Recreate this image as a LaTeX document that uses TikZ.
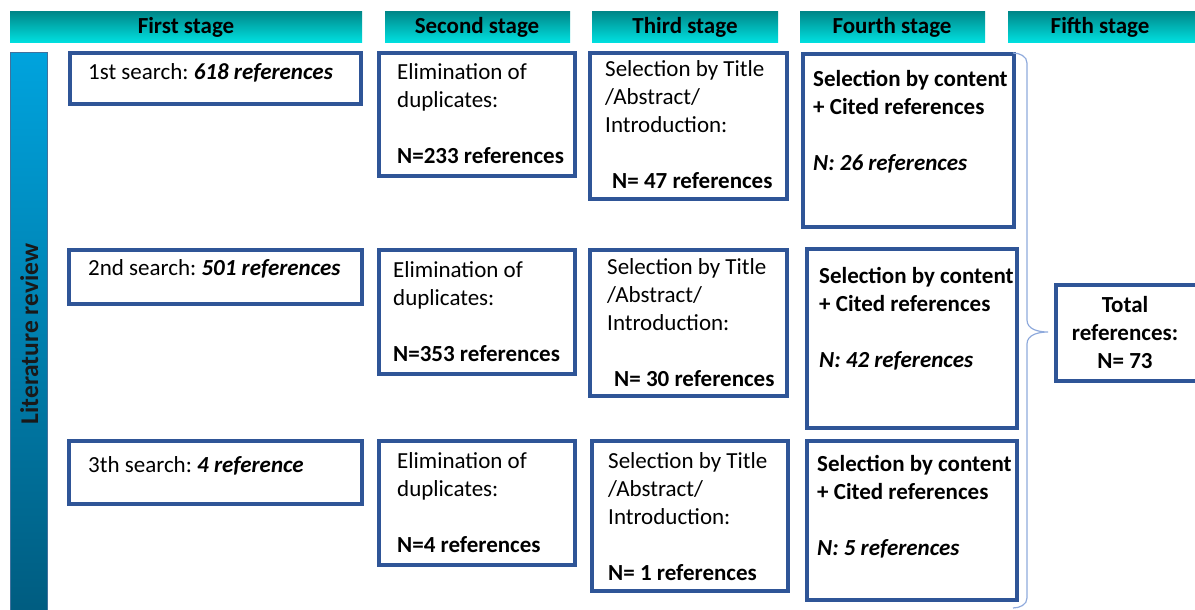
\documentclass[tikz,border=0pt]{standalone}
\usepackage{fontspec}
\setmainfont{Carlito}
\usetikzlibrary{fit}

\definecolor{boxblue}{RGB}{47,85,151}
\definecolor{hdrtop}{RGB}{0,136,138}
\definecolor{hdrbot}{RGB}{0,226,226}
\definecolor{bartop}{RGB}{0,163,221}
\definecolor{barbot}{RGB}{0,92,128}
\definecolor{barline}{RGB}{65,113,156}
\definecolor{bracecol}{RGB}{143,170,220}

% stacked lines with the first baseline as the node baseline
\newcommand\textlines[2][l]{\begin{tabular}[t]{@{}#1@{}}#2\end{tabular}}

\begin{document}
\begin{tikzpicture}[x=1pt, y=-1pt,
  stagebox/.style={draw=boxblue, line width=4pt, fill=white, inner sep=0pt, outer sep=0pt},
  header/.style={inner sep=0pt, top color=hdrtop, bottom color=hdrbot, draw=none},
  headtext/.style={anchor=base, inner sep=0pt, font=\fontsize{23}{28}\selectfont\bfseries},
  boxtext/.style={anchor=base west, inner sep=0pt, font=\fontsize{23}{28}\selectfont},
  bracestyle/.style={draw=bracecol, line width=1.2pt}
]
\useasboundingbox (0,0) rectangle (1195,610);

% stage headers
\node[header, fit={(10,12) (362,43)}] (h1) {};
\node[header, fit={(385,12) (570,43)}] (h2) {};
\node[header, fit={(592,12) (778,43)}] (h3) {};
\node[header, fit={(800,12) (985,43)}] (h4) {};
\node[header, fit={(1008,12) (1200,43)}] (h5) {};
\node[headtext] (h1t) at (186,34) {First stage};
\node[headtext] (h2t) at (477,34) {Second stage};
\node[headtext] (h3t) at (685,34) {Third stage};
\node[headtext] (h4t) at (892,34) {Fourth stage};
\node[headtext] (h5t) at (1100,34) {Fifth stage};

% vertical side bar
\node[fit={(10,53) (47,614)}, inner sep=0pt, top color=bartop, bottom color=barbot,
      draw=barline, line width=1pt] (bar) {};
\node[rotate=90, anchor=base, inner sep=0pt, font=\fontsize{25.5}{30}\selectfont\bfseries,
      text=black!90] (bartxt) at (38,334) {Literature review};

% first row
\node[stagebox, fit={(70,53) (361,104)}] (s1) {};
\node[stagebox, fit={(379,53) (575,176)}] (e1) {};
\node[stagebox, fit={(590,53) (787,199)}] (t1) {};
\node[stagebox, fit={(803,54) (1014,227)}] (f1) {};
\node[boxtext] (s1t) at (88,80) {1st search:~\textbf{\textit{618 references}}};
\node[boxtext] (e1t) at (397,80) {\textlines{Elimination of\\duplicates:\\ \\\textbf{N=233 references}}};
\node[boxtext] (t1t) at (605,77) {\textlines{Selection by Title\\/Abstract/\\Introduction:\\ \\\hspace{7pt}\textbf{N= 47 references}}};
\node[boxtext] (f1t) at (813,87) {\textlines{\textbf{Selection by content}\\\textbf{+ Cited references}\\ \\\textbf{\textit{N: 26 references}}}};

% second row
\node[stagebox, fit={(69,250) (362,304)}] (s2) {};
\node[stagebox, fit={(379,250) (575,374)}] (e2) {};
\node[stagebox, fit={(590,250) (787,396)}] (t2) {};
\node[stagebox, fit={(807,249) (1017,428)}] (f2) {};
\node[boxtext] (s2t) at (88,275) {2nd search:~\textbf{\textit{501 references}}};
\node[boxtext] (e2t) at (393,277) {\textlines{Elimination of\\duplicates:\\ \\\textbf{N=353 references}}};
\node[boxtext] (t2t) at (607,274) {\textlines{Selection by Title\\/Abstract/\\Introduction:\\ \\\hspace{7pt}\textbf{N= 30 references}}};
\node[boxtext] (f2t) at (819,283) {\textlines{\textbf{Selection by content}\\\textbf{+ Cited references}\\ \\\textbf{\textit{N: 42 references}}}};

% third row
\node[stagebox, fit={(69,441) (362,504)}] (s3) {};
\node[stagebox, fit={(379,441) (575,565)}] (e3) {};
\node[stagebox, fit={(592,441) (788,591)}] (t3) {};
\node[stagebox, fit={(807,441) (1017,600)}] (f3) {};
\node[boxtext] (s3t) at (88,472) {3th search:~\textbf{\textit{4 reference}}};
\node[boxtext] (e3t) at (397,468) {\textlines{Elimination of\\duplicates:\\ \\\textbf{N=4 references}}};
\node[boxtext] (t3t) at (608,468) {\textlines{Selection by Title\\/Abstract/\\Introduction:\\ \\\textbf{N= 1 references}}};
\node[boxtext] (f3t) at (817,471) {\textlines{\textbf{Selection by content}\\\textbf{+ Cited references}\\ \\\textbf{\textit{N: 5 references}}}};

% total
\node[stagebox, fit={(1056,285) (1212,381)}] (tot) {};
\node[boxtext, anchor=base] (tott) at (1125,312) {\textlines[c]{\textbf{Total}\\\textbf{references:}\\\textbf{N= 73}}};

% brace gathering the fourth stage
\coordinate (btop) at (1013,53);
\coordinate (btip) at (1048,332);
\coordinate (bbot) at (1013,608);
\draw[bracestyle] (btop) to[out=0,in=90] (1027,63) -- (1027,320)
  to[out=-90,in=180] (btip) to[out=180,in=90] (1027,344) -- (1027,598)
  to[out=-90,in=0] (bbot);
\end{tikzpicture}
\end{document}
